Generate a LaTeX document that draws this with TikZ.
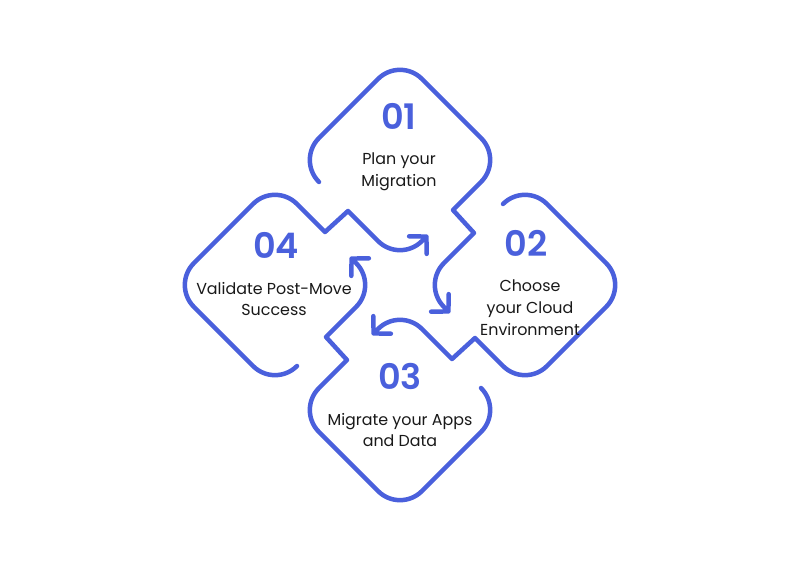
\documentclass[tikz,border=0pt]{standalone}
\usepackage{fontspec}
\setmainfont{Poppins}
\newfontfamily\numfont{Poppins SemiBold}
\usetikzlibrary{arrows.meta}
\definecolor{stepblue}{RGB}{74,96,220}

\begin{document}
\begin{tikzpicture}[x=0.025cm, y=0.025cm, node distance=0.92cm]
            \tikzstyle{arrow} = [draw=stepblue, line width=3.2pt, line cap=round, line join=round, -{Straight Barb[length=0.3cm, width=0.62cm, round]}]
            \tikzstyle{digit} = [text=stepblue, font=\fontsize{25}{25}\selectfont\numfont, inner sep=0pt]
            \tikzstyle{desc} = [align=center, font=\fontsize{11.3}{15.5}\selectfont, text=black!90, inner sep=0pt, anchor=north]

            \useasboundingbox (-400,-280) rectangle (401,285);
            \fill[white] (-400,-280) rectangle (401,285);

            % one rounded diamond per step, ending in an arrow round the next one
            \foreach \a in {0,90,180,270}
              \draw [arrow, rotate=-\a] (-81,103) [rounded corners=0.775cm] -- (-103,125) -- (0,228) -- (103,125)
                [sharp corners] -- (53,75) -- (74,52) [rounded corners=0.775cm] -- (22,0) -- (50,-28);

            \node (n1) [digit] at (-1,169) {01};
            \node (n2) [digit] at (126,42) {02};
            \node (n3) [digit] at (0,-91) {03};
            \node (n4) [digit] at (-124,40) {04};

            \node (t1) [below of=n1, desc] {Plan your\\Migration};
            \node (t2) [below of=n2, desc, xshift=0.1cm] {Choose\\your Cloud\\Environment};
            \node (t3) [below of=n3, desc] {Migrate your Apps\\and Data};
            \node (t4) [below of=n4, desc, xshift=-0.05cm] {Validate Post-Move\\Success};
        \end{tikzpicture}
\end{document}
